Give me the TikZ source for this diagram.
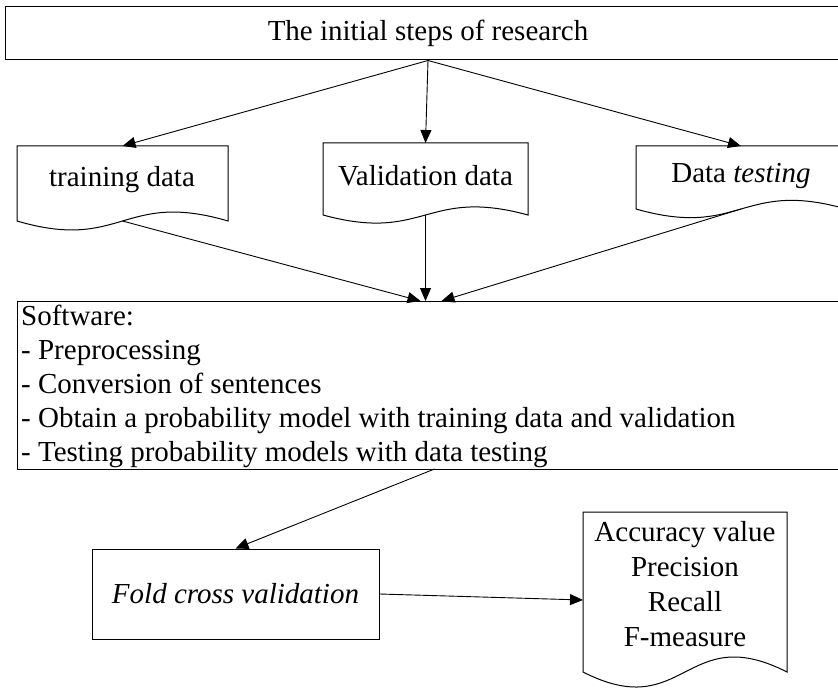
\documentclass[tikz,border=0pt]{standalone}
\usepackage{fontspec}
\setmainfont{Liberation Serif}
\usetikzlibrary{arrows.meta}
\newcommand\docoutline[2]{\draw[box] (#1.north west) -- (#1.north east) -- (#1.south east) .. controls ([yshift=#2]#1.south) and ([yshift=-#2]#1.south) .. (#1.south west) -- cycle;}
\begin{document}
\begin{tikzpicture}[x=1pt,y=1pt,
  box/.style={draw=black, line width=1pt},
  txt/.style={font=\fontsize{29}{34}\selectfont, inner sep=0pt},
  empt/.style={inner sep=0pt, outer sep=0pt},
  conn/.style={line width=0.9pt, -{Triangle[length=13pt,width=11pt]}}]
\useasboundingbox (0,0) rectangle (838,-690);
% top box
\node[box, txt, minimum width=846pt, minimum height=53pt] (top) at (428,-33.5) {The initial steps of research};
% document shapes
\node[empt, minimum width=211pt, minimum height=75pt] (train) at (122.5,-183.5) {};
\node[empt, minimum width=205pt, minimum height=72pt] (valid) at (425.5,-179) {};
\node[empt, minimum width=210pt, minimum height=63pt] (test) at (741,-177.5) {};
\node[empt, minimum width=204pt, minimum height=160pt] (res) at (685,-592) {};
\docoutline{train}{31pt}
\docoutline{valid}{28pt}
\docoutline{test}{30pt}
\docoutline{res}{52pt}
\node[txt] (traint) at (122,-180) {training data};
\node[txt] (validt) at (425.5,-176) {Validation data};
\node[txt] (testt) at (741,-175.5) {Data \textit{testing}};
\node[txt, font=\fontsize{29}{35}\selectfont, align=center] (rest) at (685,-584) {Accuracy value\\Precision\\Recall\\F-measure};
% software box
\node[box, empt, minimum width=835pt, minimum height=168pt] (sw) at (434.5,-385) {};
\node[txt, align=left, anchor=west] (swt) at (21,-386) {Software:\\- Preprocessing\\- Conversion of sentences\\- Obtain a probability model with training data and validation\\- Testing probability models with data testing};
% fold box
\node[box, txt, font=\fontsize{29}{34}\selectfont\itshape, minimum width=287pt, minimum height=90pt] (fold) at (235.5,-594) {Fold cross validation};
% connectors
\draw[conn] (top.south) -- (train.north);
\draw[conn] (top.south) -- (valid.north);
\draw[conn] (top.south) -- (test.north);
\draw[conn] (train.south) -- ([xshift=-14pt]sw.north);
\draw[conn] (valid.south) -- (valid.south |- sw.north);
\draw[conn] (test.south) -- ([xshift=7pt]sw.north);
\draw[conn] (sw.south) -- (fold.north);
\draw[conn] (fold.east) -- ([yshift=-8pt]res.west);
\end{tikzpicture}
\end{document}
